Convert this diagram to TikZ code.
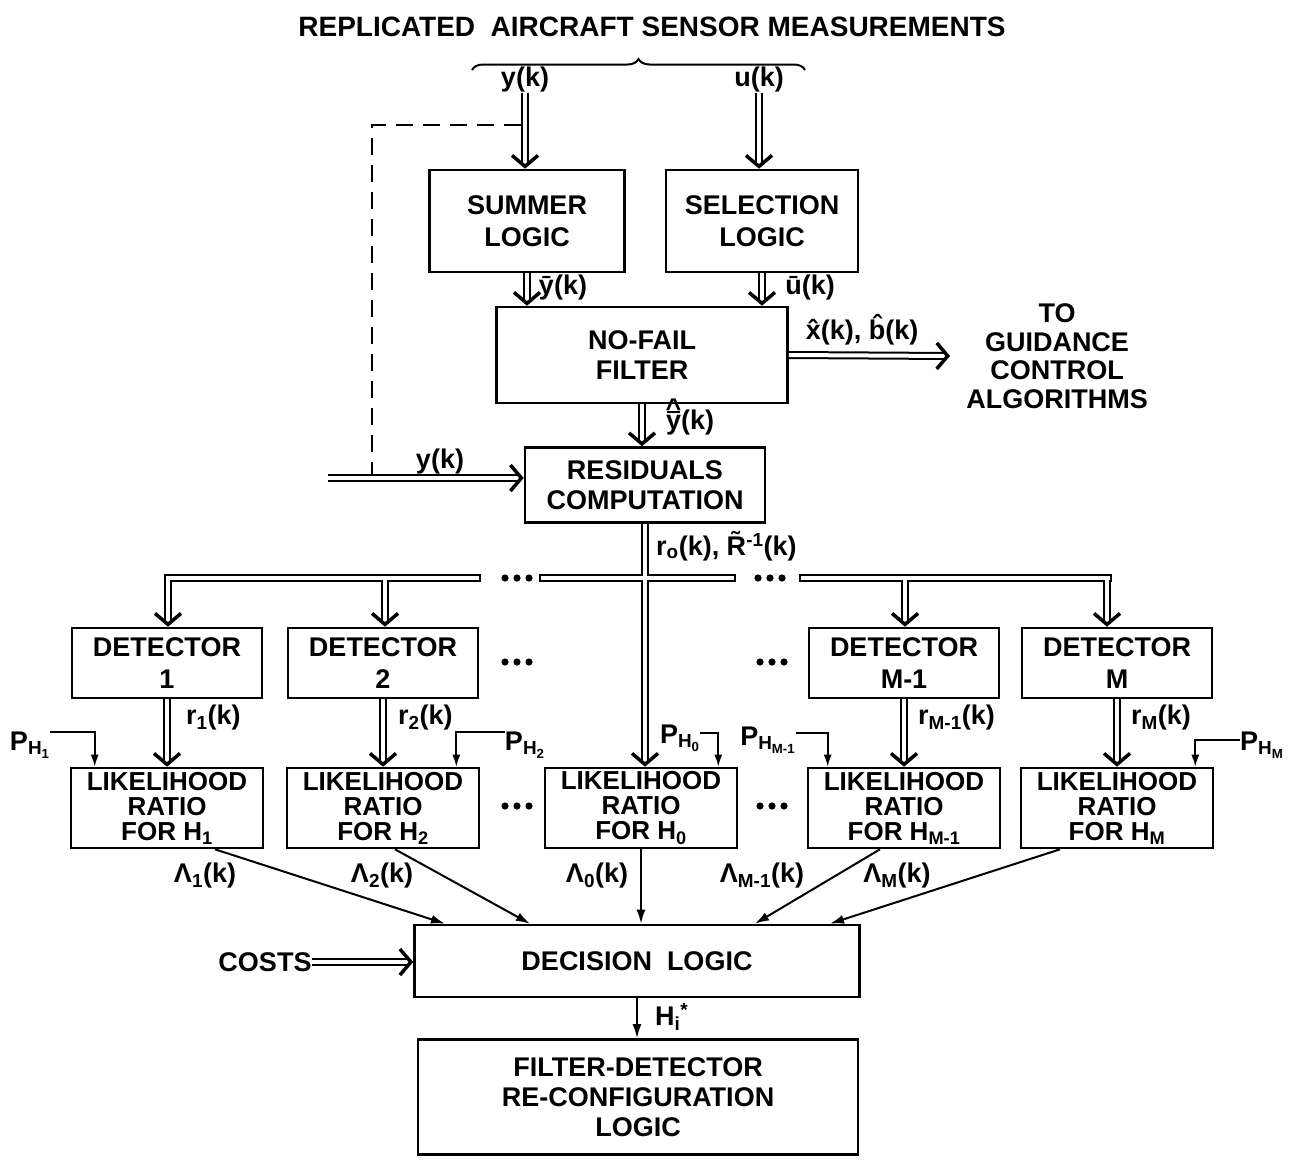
\documentclass[tikz,border=0pt]{standalone}
\usepackage{fontspec}
\setmainfont{Liberation Sans}
\usetikzlibrary{arrows.meta,decorations.pathreplacing}

\newcommand\lrfont{\bfseries\fontsize{26}{25}\selectfont}
\newcommand\hatbar{\ooalign{y\cr\hidewidth\raisebox{17pt}{\rule{13pt}{2.2pt}}\hidewidth\cr
  \hidewidth\raisebox{12pt}{\^{}}\hidewidth\cr}}

\begin{document}
\begin{tikzpicture}[x=1pt,y=-1pt,
  every node/.style={font=\bfseries\fontsize{27}{30}\selectfont, inner sep=0pt},
  blk/.style 2 args={draw, line width=2.6pt, minimum width=#1, minimum height=#2, align=center},
  dbl/.style={double, double distance=4pt, line width=2pt,
    -{Straight Barb[length=11pt,width=26pt,line width=3.5pt]}},
  sgl/.style={line width=2pt, -{Latex[length=14pt,width=9pt]}},
  parr/.style={line width=1.8pt, -{Latex[length=12pt,width=8pt]}}]

\useasboundingbox (0,0) rectangle (1290,1159);
\fill[white] (0,0) rectangle (1290,1159);

%% inputs
\node[font=\bfseries\fontsize{28}{30}\selectfont] (title) at (652,27)
  {REPLICATED\ \ AIRCRAFT SENSOR MEASUREMENTS};
\coordinate (brl) at (472,70);
\coordinate (brr) at (805,70);
\draw[decorate, decoration={brace, amplitude=11pt}, line width=2pt] (brl) -- (brr);
\node (ylab) at (525,80) {y(k)};
\node (ulab) at (759,80) {u(k)};

%% top blocks
\node[blk={195pt}{102pt}] (summer) at (527,221) {SUMMER\\[2pt]LOGIC};
\node[blk={192pt}{102pt}] (select) at (762,221) {SELECTION\\[2pt]LOGIC};
\node[blk={291pt}{96pt}] (nofail) at (642,355) {NO-FAIL\\FILTER};
\node[blk={240pt}{75pt}] (resid) at (645,485) {RESIDUALS\\COMPUTATION};

\draw[dbl] (ylab.south) -- (ylab |- summer.north);
\draw[dbl] (ulab.south) -- (ulab |- select.north);
\draw[dbl] (summer.south) -- (summer.south |- nofail.north);
\draw[dbl] (select.south) -- (select.south |- nofail.north);
\node (ybar) at (563,288) {\=y(k)};
\node (ubar) at (810,288) {\=u(k)};

%% outputs of the filter
\node (xbk) at (862,330) {\^x(k), \^b(k)};
\node[align=center, font=\bfseries\fontsize{27}{28.5}\selectfont] (guid) at (1057,356)
  {TO\\GUIDANCE\\CONTROL\\ALGORITHMS};
\coordinate (gin) at (950,356);
\draw[dbl] (nofail.east) -- (gin);
\draw[dbl] (nofail.south) -- (nofail.south |- resid.north);
\node (yhat) at (690,423) {\hatbar(k)};

%% measured y(k) and dashed link
\coordinate (yin) at (328,478);
\draw[dbl] (yin) -- (resid.west |- yin);
\node (ylab2) at (440,462) {y(k)};
\coordinate (dtop) at (521,125);
\coordinate (dbot) at (372,474);
\draw[line width=2pt, dash pattern=on 17pt off 10pt] (dtop) -| (dbot);

%% detectors and likelihood ratios
\foreach \n/\x/\t in {det1/167/1, det2/383/2, detm1/904/M-1, detm/1117/M}
  \node[blk={190pt}{70pt}] (\n) at (\x,663) {DETECTOR\\[2pt]\t};
\foreach \n/\x/\t in {lr1/167/{H\textsubscript{1}}, lr2/383/{H\textsubscript{2}},
    lr0/641/{H\textsubscript{0}}, lrm1/904/{H\textsubscript{M-1}}, lrm/1117/{H\textsubscript{M}}}
  \node[blk={192pt}{80pt}, font=\lrfont] (\n) at (\x,808) {LIKELIHOOD\\RATIO\\FOR \t};
\foreach \x/\y in {517/578, 770/578, 517/662, 772/662, 517/806, 772/806}
  \foreach \d in {-12,0,12}
    \fill (\x+\d,\y) circle (3.6pt);

%% residual bus
\coordinate (busa) at (165,575);
\coordinate (busb) at (480,581);
\coordinate (busc) at (540,575);
\coordinate (busd) at (735,581);
\coordinate (buse) at (800,575);
\coordinate (busf) at (1111,581);
\draw[line width=2pt, fill=white] (busa) rectangle (busb);
\draw[line width=2pt, fill=white] (busc) rectangle (busd);
\draw[line width=2pt, fill=white] (buse) rectangle (busf);
\draw[dbl] (resid.south) -- (resid.south |- lr0.north);
\fill[white] (641,576) rectangle (649,580);
\foreach \n/\x in {det1/168, det2/385, detm1/905, detm/1107} {
  \coordinate (b\n) at (\x,580);
  \draw[dbl] (b\n) -- (b\n |- \n.north);
}
\node[anchor=west] (rlab) at (656,546) {r\textsubscript{o}(k), \~R\textsuperscript{-1}(k)};

\foreach \n in {1,2,m1,m}
  \draw[dbl] (det\n.south) -- (lr\n.north);
\node[anchor=west] (r1) at (186,718) {r\textsubscript{1}(k)};
\node[anchor=west] (r2) at (398,718) {r\textsubscript{2}(k)};
\node[anchor=west] (rm1) at (918,718) {r\textsubscript{M-1}(k)};
\node[anchor=west] (rm) at (1131,718) {r\textsubscript{M}(k)};

%% prior probabilities
\node (ph1) at (30,745) {P\textsubscript{H\textsubscript{1}}};
\node (ph2) at (525,745) {P\textsubscript{H\textsubscript{2}}};
\node (ph0) at (680,738) {P\textsubscript{H\textsubscript{0}}};
\node (phm1) at (768,740) {P\textsubscript{H\textsubscript{M-1}}};
\node (phm) at (1262,745) {P\textsubscript{H\textsubscript{M}}};
\draw[parr] (ph1.east |- 0,732) -| ([xshift=25pt]lr1.north west);
\draw[parr] (ph2.west |- 0,732) -| ([xshift=-24pt]lr2.north east);
\draw[parr] (ph0.east |- 0,733) -| ([xshift=-20pt]lr0.north east);
\draw[parr] (phm1.east |- 0,733) -| ([xshift=21pt]lrm1.north west);
\draw[parr] (phm.west |- 0,740) -| ([xshift=-19pt]lrm.north east);

%% decision
\node[blk={445pt}{72pt}] (dec) at (637,961) {DECISION\ \ LOGIC};
\node[blk={440pt}{115pt}] (reconf) at (638,1097) {FILTER-DETECTOR\\RE-CONFIGURATION\\LOGIC};

\draw[sgl] ([xshift=48pt]lr1.south) -- ([xshift=-192pt]dec.north);
\draw[sgl] ([xshift=12pt]lr2.south) -- ([xshift=-107pt]dec.north);
\draw[sgl] (lr0.south) -- (lr0.south |- dec.north);
\draw[sgl] ([xshift=-24pt]lrm1.south) -- ([xshift=118pt]dec.north);
\draw[sgl] ([xshift=-57pt]lrm.south) -- ([xshift=193pt]dec.north);
\node (l1) at (205,876) {Λ\textsubscript{1}(k)};
\node (l2) at (382,876) {Λ\textsubscript{2}(k)};
\node (l0) at (597,876) {Λ\textsubscript{0}(k)};
\node (lm1) at (762,876) {Λ\textsubscript{M-1}(k)};
\node (lm) at (897,876) {Λ\textsubscript{M}(k)};

\node (costs) at (265,962) {COSTS};
\draw[dbl] (costs.east) -- (dec.west |- costs);
\draw[sgl] (dec.south) -- (dec.south |- reconf.north);
\node[anchor=west] (hi) at (655,1017) {H\textsubscript{i}\textsuperscript{*}};

\end{tikzpicture}
\end{document}
